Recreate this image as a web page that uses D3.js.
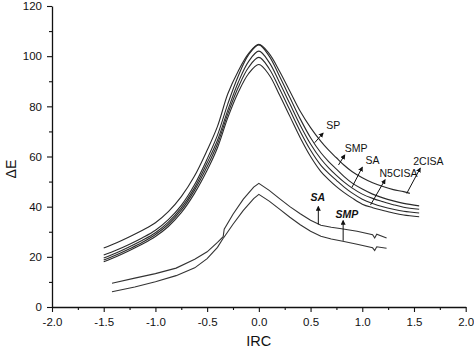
<!DOCTYPE html>
<html>
<head>
<meta charset="utf-8">
<script src="https://cdn.jsdelivr.net/npm/d3@7"></script>
<style>
  body { margin: 0; background: #fff; }
  text { font-family: Arial, "Liberation Sans", sans-serif; }
</style>
</head>
<body>
<div id="chart"></div>
<script>
// Data
const upperX = [-1.5, -1.375, -1.25, -1.125, -1.0, -0.875, -0.75, -0.625, -0.5, -0.4, -0.3, -0.2, -0.1, 0,
                0.1, 0.2, 0.3, 0.4, 0.5, 0.6, 0.675, 0.75, 0.825, 0.9, 1.0, 1.1, 1.2, 1.3, 1.4, 1.55];
const cisa2X = [-1.5, -1.375, -1.25, -1.125, -1.0, -0.875, -0.75, -0.625, -0.5, -0.4, -0.3, -0.2, -0.1, 0,
                0.1, 0.2, 0.3, 0.4, 0.5, 0.6, 0.675, 0.75, 0.825, 0.9, 1.0, 1.1, 1.2, 1.3, 1.4, 1.46];

const cisa2 = [23.5, 25.6, 28, 30.6, 33.6, 38, 44, 52, 62.5, 72, 85, 94, 101, 104.7,
               101, 94, 86, 78, 71.5, 66, 62.5, 59.5, 56.5, 54, 51.5, 49.5, 48, 46.8, 46, 45.3];
const sp    = [20.7, 22.7, 25, 27.6, 30.6, 34.8, 40.5, 48.5, 59, 68.5, 81, 92, 100.5, 104.5,
               100, 92, 83.5, 75, 67.5, 61.5, 58, 55, 52, 49.5, 47, 45, 43.5, 42.3, 41.3, 40.3];
const smp   = [19.5, 21.6, 24, 26.6, 29.6, 33.8, 39.5, 47.3, 57.5, 66.5, 78.5, 89.5, 97.8, 102,
               97.5, 89.5, 81, 72.5, 65, 59, 55.5, 52.5, 49.8, 47.5, 45, 43.3, 42, 40.8, 39.8, 39];
const sa    = [18.7, 20.8, 23.2, 25.8, 28.9, 33, 38.6, 46.3, 56, 65, 77, 87.5, 95.5, 99.5,
               95, 87, 78.5, 70, 62.5, 56.5, 53.3, 50.5, 47.8, 45.5, 43, 41.3, 40, 39, 38.2, 37.5];
const n5cisa = [18, 20.1, 22.5, 25.1, 28.1, 32.1, 37.6, 45.1, 54.5, 63.5, 75.5, 85.5, 93, 96.7,
                92.5, 84.5, 76, 67.5, 60, 54, 50.8, 48, 45.6, 43.5, 41, 39.6, 38.5, 37.5, 36.7, 36];

const lowX = [-1.42, -1.2, -1.0, -0.8, -0.62, -0.5, -0.4, -0.345, -0.335, -0.25, -0.15, -0.05, 0,
              0.1, 0.2, 0.3, 0.4, 0.5, 0.6, 0.7, 0.8, 0.95, 1.1, 1.12, 1.14, 1.235];
const lowSA  = [9.5, 11.5, 13.3, 15.5, 19, 22, 25.8, 28, 31, 37, 43, 47.8, 49.3,
                46.5, 43.2, 40, 37.2, 34.6, 32.6, 31.8, 31.2, 30.2, 28.8, 27.5, 29, 27.5];
const lowSMP = [6.1, 8, 10.1, 12.5, 15.6, 19.3, 23.8, 27.4, 27.9, 33, 38.5, 43.2, 44.9,
                42.2, 39, 35.8, 32.8, 30.2, 28.2, 27.1, 26.3, 25, 23.6, 22.5, 24, 23.4];

// annotations: label, text position, arrow tail, arrow head (data units)
const labels = [
  { text: "SP",     at: [0.72, 72],   from: [0.54, 65.5], to: [0.62, 69.3], italic: false },
  { text: "SMP",    at: [0.94, 63],   from: [0.77, 56.6], to: [0.83, 60.6], italic: false },
  { text: "SA",     at: [1.10, 58],   from: [0.90, 47.7], to: [1.0, 55.7],  italic: false },
  { text: "N5CISA", at: [1.35, 53],   from: [1.08, 40.7], to: [1.22, 50.7], italic: false },
  { text: "2CISA",  at: [1.64, 57.8], from: [1.43, 45.3], to: [1.56, 55.3], italic: false },
  { text: "SA",     at: [0.57, 43.5], from: [0.575, 32.9], to: [0.575, 40], italic: true },
  { text: "SMP",    at: [0.85, 36.6], from: [0.815, 26.4], to: [0.815, 34.4], italic: true }
];

const xTicks = [-2.0, -1.5, -1.0, -0.5, 0.0, 0.5, 1.0, 1.5, 2.0];
const yTicks = [0, 20, 40, 60, 80, 100, 120];

const width = 474, height = 349;
const svg = d3.select("#chart").append("svg")
    .attr("width", width)
    .attr("height", height);

const x = d3.scaleLinear().domain([-2, 2]).range([52, 465.7]);
const y = d3.scaleLinear().domain([0, 120]).range([307, 6]);

// Axes
const xAxis = svg.append("g")
    .attr("transform", `translate(0,${y(0)})`)
    .call(d3.axisBottom(x).tickValues(xTicks).tickSize(5).tickSizeOuter(0)
        .tickFormat(d => d.toFixed(1)));
svg.append("g")
    .attr("transform", `translate(0,${y(0)})`)
    .call(d3.axisBottom(x).tickValues(d3.range(-1.75, 2, 0.5)).tickSize(3).tickFormat(""))
    .select(".domain").remove();

const yAxis = svg.append("g")
    .attr("transform", `translate(${x(-2)},0)`)
    .call(d3.axisLeft(y).tickValues(yTicks).tickSize(5).tickPadding(5).tickSizeOuter(0));
svg.append("g")
    .attr("transform", `translate(${x(-2)},0)`)
    .call(d3.axisLeft(y).tickValues(d3.range(10, 120, 20)).tickSize(3).tickFormat(""))
    .select(".domain").remove();

svg.selectAll(".domain").attr("stroke", "#111").attr("stroke-width", 1.3);
svg.selectAll(".tick line").attr("stroke", "#111").attr("stroke-width", 1.1);
svg.selectAll(".tick text")
    .attr("font-size", "11.5px")
    .attr("font-family", "Arial, 'Liberation Sans', sans-serif")
    .attr("fill", "#111");
xAxis.selectAll(".tick text").attr("dy", "0.95em");

svg.append("text")
    .attr("x", x(0))
    .attr("y", 346)
    .attr("text-anchor", "middle")
    .attr("font-size", "14.5px")
    .attr("fill", "#111")
    .text("IRC");

svg.append("text")
    .attr("transform", `translate(16,${y(55)}) rotate(-90)`)
    .attr("text-anchor", "middle")
    .attr("font-size", "14px")
    .attr("fill", "#111")
    .text("ΔE");

// Curves
const smooth = d3.line()
    .x(d => x(d[0]))
    .y(d => y(d[1]))
    .curve(d3.curveCatmullRom.alpha(0.5));
const straight = d3.line()
    .x(d => x(d[0]))
    .y(d => y(d[1]));

const upper = [
  { xs: upperX, ys: sp },
  { xs: upperX, ys: smp },
  { xs: upperX, ys: sa },
  { xs: upperX, ys: n5cisa },
  { xs: cisa2X, ys: cisa2 }
];
const lower = [
  { xs: lowX, ys: lowSA },
  { xs: lowX, ys: lowSMP }
];

svg.append("g").selectAll("path")
    .data(upper)
    .enter()
    .append("path")
    .attr("d", s => smooth(s.xs.map((v, i) => [v, s.ys[i]])))
    .attr("fill", "none")
    .attr("stroke", "#2a2a2a")
    .attr("stroke-width", 1.1);

svg.append("g").selectAll("path")
    .data(lower)
    .enter()
    .append("path")
    .attr("d", s => straight(s.xs.map((v, i) => [v, s.ys[i]])))
    .attr("fill", "none")
    .attr("stroke", "#333")
    .attr("stroke-width", 1.1);

// Arrow annotations
svg.append("defs").append("marker")
    .attr("id", "arrowhead")
    .attr("viewBox", "0 -5 10 10")
    .attr("refX", 8)
    .attr("refY", 0)
    .attr("orient", "auto")
    .attr("markerWidth", 5)
    .attr("markerHeight", 5)
    .append("path")
    .attr("d", "M 0,-5 L 10,0 L 0,5 Z")
    .attr("fill", "#111");

const notes = svg.append("g");
notes.selectAll("line")
    .data(labels)
    .enter()
    .append("line")
    .attr("x1", d => x(d.from[0]))
    .attr("y1", d => y(d.from[1]))
    .attr("x2", d => x(d.to[0]))
    .attr("y2", d => y(d.to[1]))
    .attr("stroke", "#111")
    .attr("stroke-width", 1)
    .attr("marker-end", "url(#arrowhead)");

notes.selectAll("text")
    .data(labels)
    .enter()
    .append("text")
    .attr("x", d => x(d.at[0]))
    .attr("y", d => y(d.at[1]))
    .attr("text-anchor", "middle")
    .attr("dominant-baseline", "middle")
    .attr("font-size", "10.5px")
    .attr("font-style", d => d.italic ? "italic" : "normal")
    .attr("font-weight", d => d.italic ? "bold" : "normal")
    .attr("fill", "#111")
    .text(d => d.text);
</script>
</body>
</html>
